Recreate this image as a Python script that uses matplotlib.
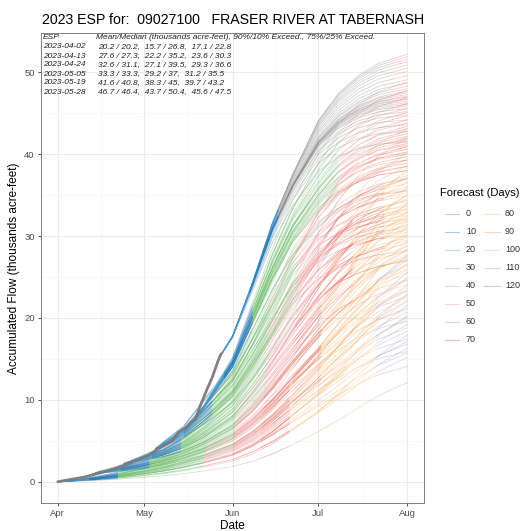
import numpy as np
import matplotlib
matplotlib.use("Agg")
import matplotlib.pyplot as plt
from matplotlib.collections import LineCollection
from matplotlib.lines import Line2D

plt.rcParams['font.family'] = ['Liberation Sans', 'DejaVu Sans']

W, H = 525, 531

# ---------------- data ----------------
# day index: 0 = Apr 1, 122 = Aug 1
month_ticks = [0, 30, 61, 91, 122]
month_labels = ['Apr', 'May', 'Jun', 'Jul', 'Aug']
minor_x = [15, 45.5, 76, 106.5]

obs_days = [0, 4, 9, 14, 19, 24, 28, 32, 35, 38, 40, 42, 45, 47, 48, 50, 52, 54, 56, 57]
obs_vals = [0, 0.25, 0.55, 1.0, 1.5, 2.1, 2.7, 3.3, 4.0, 4.6, 5.0, 6.0, 6.7, 7.4, 7.6, 9.5, 11.2, 12.8, 14.8, 15.6]

issue_labels = ['2023-04-02', '2023-04-13', '2023-04-24', '2023-05-05', '2023-05-19', '2023-05-28']
issue_days = [1, 12, 23, 34, 48, 57]
start_vals = [0.0, 0.9, 2.2, 4.0, 7.6, 15.5]
stats_text = ['20.2 / 20.2,  15.7 / 26.8,  17.1 / 22.8',
              '27.6 / 27.3,  22.2 / 35.2,  23.6 / 30.3',
              '32.6 / 31.1,  27.1 / 39.5,  29.3 / 36.6',
              '33.3 / 33.3,  29.2 / 37,  31.2 / 35.5',
              '41.6 / 40.8,  38.3 / 45,  39.7 / 43.2',
              '46.7 / 46.4,  43.7 / 50.4,  45.6 / 47.5']

node_days = [0, 7, 14, 21, 30, 37, 44, 51, 61, 68, 75, 82, 91, 98, 105, 112, 122]

# cumulative fraction of remaining volume (early / late melt templates) at nodes after issue
g1_early = [.012, .028, .048, .08, .11, .145, .19, .27, .36, .47, .59, .73, .82, .90, .955, 1]
g1_late = [.006, .014, .024, .04, .055, .075, .10, .14, .19, .26, .35, .48, .60, .73, .86, 1]
g2_early = [.01, .03, .06, .09, .13, .18, .27, .37, .49, .61, .75, .84, .91, .96, 1]
g2_late = [.005, .015, .03, .045, .065, .09, .14, .20, .28, .38, .51, .63, .75, .87, 1]
g3_early = [.03, .06, .11, .18, .30, .43, .57, .70, .83, .91, .95, .98, 1]
g3_late = [.015, .03, .055, .09, .16, .25, .35, .47, .63, .74, .84, .92, 1]
g4_early = [.03, .09, .19, .33, .48, .63, .78, .89, .94, .97, .99, 1]
g4_late = [.01, .05, .11, .21, .33, .47, .63, .78, .86, .92, .96, 1]
g5_early = [.05, .22, .40, .58, .73, .85, .92, .96, .985, 1]
g5_late = [.04, .18, .34, .50, .64, .78, .87, .93, .97, 1]
g6_early = [.08, .30, .53, .70, .86, .93, .97, .99, 1]
g6_late = [.06, .24, .44, .60, .78, .87, .93, .97, 1]

# Aug-1 accumulated volume of each ensemble trace
g1_final = [12.1, 14.1, 15.2, 15.7, 15.9, 16.3, 16.8, 17.1, 17.4, 17.9, 18.4, 18.8, 19.2, 19.6, 20.1,
            20.3, 20.7, 21.2, 21.6, 22.1, 22.6, 22.9, 23.3, 24.0, 24.8, 25.6, 26.5, 27.1, 27.7, 28.4]
g2_final = [19.8, 21.0, 22.0, 22.4, 22.9, 23.4, 23.7, 24.1, 24.6, 25.0, 25.5, 25.9, 26.4, 26.8, 27.2,
            27.4, 27.8, 28.3, 28.8, 29.4, 30.1, 30.5, 31.2, 32.0, 33.0, 34.1, 35.0, 36.1, 37.2, 38.4]
g3_final = [24.6, 26.0, 27.0, 27.5, 28.2, 28.8, 29.3, 29.8, 30.2, 30.7, 31.0, 31.4, 31.8, 32.1, 32.5,
            32.9, 33.3, 33.8, 34.4, 35.1, 35.8, 36.6, 37.1, 37.9, 38.6, 39.3, 40.2, 41.0, 42.0, 43.1]
g4_final = [27.0, 28.2, 29.0, 29.5, 30.0, 30.5, 31.0, 31.3, 31.7, 32.0, 32.3, 32.6, 32.9, 33.2, 33.4,
            33.6, 33.9, 34.2, 34.5, 34.9, 35.3, 35.6, 36.0, 36.4, 36.9, 37.4, 38.0, 38.6, 39.3, 40.2]
g5_final = [35.5, 37.0, 38.0, 38.5, 38.9, 39.3, 39.7, 40.0, 40.3, 40.6, 40.9, 41.1, 41.3, 41.6, 41.8,
            42.0, 42.2, 42.5, 42.8, 43.1, 43.4, 43.8, 44.2, 44.7, 45.1, 45.6, 46.2, 46.9, 47.8, 48.8]
g6_final = [41.5, 42.8, 43.6, 44.2, 44.8, 45.2, 45.6, 45.9, 46.1, 46.3, 46.5, 46.7, 46.8, 47.0, 47.1,
            47.3, 47.5, 47.7, 48.0, 48.3, 48.7, 49.1, 49.6, 50.1, 50.5, 50.9, 51.3, 51.6, 51.9, 52.2]

# melt timing of each trace (0 = early template, 1 = late template)
g1_timing = [0.9, 0.3, 0.7, 0.5, 0.1, 0.8, 0.4, 0.6, 0.2, 1.0, 0.5, 0.3, 0.7, 0.0, 0.6,
             0.8, 0.4, 0.2, 0.9, 0.5, 0.1, 0.7, 0.3, 0.6, 0.4, 0.8, 0.2, 0.5, 0.7, 0.3]
g2_timing = [0.6, 0.2, 0.8, 0.4, 1.0, 0.3, 0.7, 0.1, 0.5, 0.9, 0.2, 0.6, 0.4, 0.8, 0.0,
             0.7, 0.3, 0.5, 0.1, 0.9, 0.6, 0.4, 0.8, 0.2, 0.5, 0.7, 0.3, 0.9, 0.1, 0.6]
g3_timing = [0.4, 0.8, 0.1, 0.6, 0.3, 0.9, 0.5, 0.2, 0.7, 0.0, 0.6, 0.4, 1.0, 0.3, 0.8,
             0.5, 0.1, 0.7, 0.2, 0.9, 0.4, 0.6, 0.3, 0.8, 0.5, 0.1, 0.7, 0.2, 0.6, 0.4]
g4_timing = [0.7, 0.3, 0.5, 0.9, 0.1, 0.6, 0.2, 0.8, 0.4, 0.0, 0.7, 0.5, 0.3, 0.9, 0.6,
             0.2, 0.8, 0.4, 1.0, 0.3, 0.5, 0.1, 0.7, 0.4, 0.6, 0.9, 0.2, 0.5, 0.8, 0.3]
g5_timing = [0.1, 0.5, 0.2, 0.3, 0.4, 0.2, 0.5, 0.3, 0.6, 0.4, 0.7, 0.3, 0.5, 0.6, 0.4,
             0.8, 0.5, 0.6, 0.7, 0.5, 0.8, 0.6, 0.9, 0.7, 0.8, 0.6, 0.9, 0.8, 1.0, 0.9]
g6_timing = [0.0, 0.05, 0.1, 0.1, 0.15, 0.2, 0.2, 0.25, 0.3, 0.3, 0.35, 0.4, 0.4, 0.45, 0.5,
             0.5, 0.55, 0.6, 0.6, 0.65, 0.7, 0.7, 0.75, 0.8, 0.8, 0.85, 0.9, 0.9, 0.95, 1.0]

legend_days = [0, 10, 20, 30, 40, 50, 60, 70, 80, 90, 100, 110, 120]
legend_colors = ['#4a95c8', '#2f7fb8', '#6dbd6a', '#72bf70', '#86c283', '#f09a9a', '#ec7c7c',
                 '#e4544a', '#fbb977', '#f5a24a', '#f8bf86', '#a39fcc', '#8c88c2']
# latest forecast drawn in grey after its first 20 days
latest_grey = '#8a8a8a'

groups = [
    (g1_early, g1_late, g1_final, g1_timing),
    (g2_early, g2_late, g2_final, g2_timing),
    (g3_early, g3_late, g3_final, g3_timing),
    (g4_early, g4_late, g4_final, g4_timing),
    (g5_early, g5_late, g5_final, g5_timing),
    (g6_early, g6_late, g6_final, g6_timing),
]

# ---------------- figure ----------------
fig = plt.figure(figsize=(W / 100, H / 100), dpi=100)
ax = fig.add_axes([41 / W, 1 - 503 / H, (424 - 41) / W, (503 - 33) / H])

ax.set_xlim(-5.85, 127.85)
ax.set_ylim(-2.6, 54.8)
ax.set_xticks(month_ticks)
ax.set_xticklabels(month_labels)
ax.set_xticks(minor_x, minor=True)
ax.set_yticks([0, 10, 20, 30, 40, 50])
ax.set_yticks([5, 15, 25, 35, 45], minor=True)
ax.grid(True, which='major', color='#ebebeb', lw=0.8)
ax.grid(True, which='minor', color='#f5f5f5', lw=0.5)
ax.set_axisbelow(True)
ax.tick_params(which='major', length=2.5, width=0.6, color='#333333', labelsize=6.8,
               labelcolor='#4d4d4d', pad=2)
ax.tick_params(which='minor', length=0)
for s in ax.spines.values():
    s.set_color('#7f7f7f')
    s.set_linewidth(0.7)

n_groups = len(groups)
for gi, (early, late, finals, timing) in enumerate(groups):
    d0 = issue_days[gi]
    s0 = start_vals[gi]
    nd = [d0] + [d for d in node_days if d > d0]
    e = np.array([0.0] + list(early))
    l = np.array([0.0] + list(late))
    days = np.arange(d0, 123)
    fe = np.interp(days, nd, e)
    fl = np.interp(days, nd, l)
    bins = np.minimum((days - d0) // 10, 12)
    segs, cols = [], []
    for F, w in zip(finals, timing):
        vals = s0 + (F - s0) * ((1 - w) * fe + w * fl)
        for b in np.unique(bins):
            idx = np.where(bins == b)[0]
            i0, i1 = idx[0], min(idx[-1] + 1, len(days) - 1)
            if i1 <= i0:
                continue
            segs.append(np.column_stack([days[i0:i1 + 1], vals[i0:i1 + 1]]))
            if gi == n_groups - 1 and 2 <= b <= 5:
                cols.append(latest_grey)
            else:
                cols.append(legend_colors[b])
    lc = LineCollection(segs, colors=cols, linewidths=0.6, alpha=0.38, capstyle='butt')
    ax.add_collection(lc)

ax.plot(obs_days, obs_vals, color='#7a7a7a', lw=2.0, alpha=0.95, solid_capstyle='round')

ax.set_xlabel('Date', fontsize=8.5, labelpad=1)
ax.set_ylabel('Accumulated Flow (thousands acre-feet)', fontsize=8.5, labelpad=3)

# annotation
tx0, tx1 = 43 / W, 96 / W
row_y = [37, 47, 56, 65, 74, 83, 92]
fig.text(tx0, 1 - row_y[0] / H, 'ESP', fontsize=6, style='italic', va='center', color='#222222')
fig.text(tx1, 1 - row_y[0] / H, 'Mean/Median (thousands acre-feet), 90%/10% Exceed., 75%/25% Exceed.',
         fontsize=6, style='italic', va='center', color='#222222')
for i in range(6):
    fig.text(tx0, 1 - row_y[i + 1] / H, issue_labels[i], fontsize=6, style='italic', va='center',
             color='#222222')
    fig.text(tx1 + 2 / W, 1 - row_y[i + 1] / H, stats_text[i], fontsize=6, style='italic', va='center',
             color='#222222')

fig.text(42 / W, 1 - 20 / H, '2023 ESP for:  09027100   FRASER RIVER AT TABERNASH', fontsize=10.2,
         va='center', ha='left')

# legend (manual, 8 + 5 layout)
fig.text(440 / W, 1 - 193 / H, 'Forecast (Days)', fontsize=8, va='center', ha='left')
row_px = [214, 232, 250, 268, 286, 304, 322, 340]
for i, (d, c) in enumerate(zip(legend_days, legend_colors)):
    if i < 8:
        kx0, kx1, lx, ry = 445, 459, 466, row_px[i]
    else:
        kx0, kx1, lx, ry = 484, 500, 505, row_px[i - 8]
    fig.add_artist(Line2D([kx0 / W, kx1 / W], [1 - ry / H, 1 - ry / H], color=c, lw=0.8, alpha=0.4,
                          transform=fig.transFigure))
    fig.text(lx / W, 1 - ry / H, str(d), fontsize=6.5, va='center', ha='left', color='#333333')

fig.savefig('out.png', dpi=100)
